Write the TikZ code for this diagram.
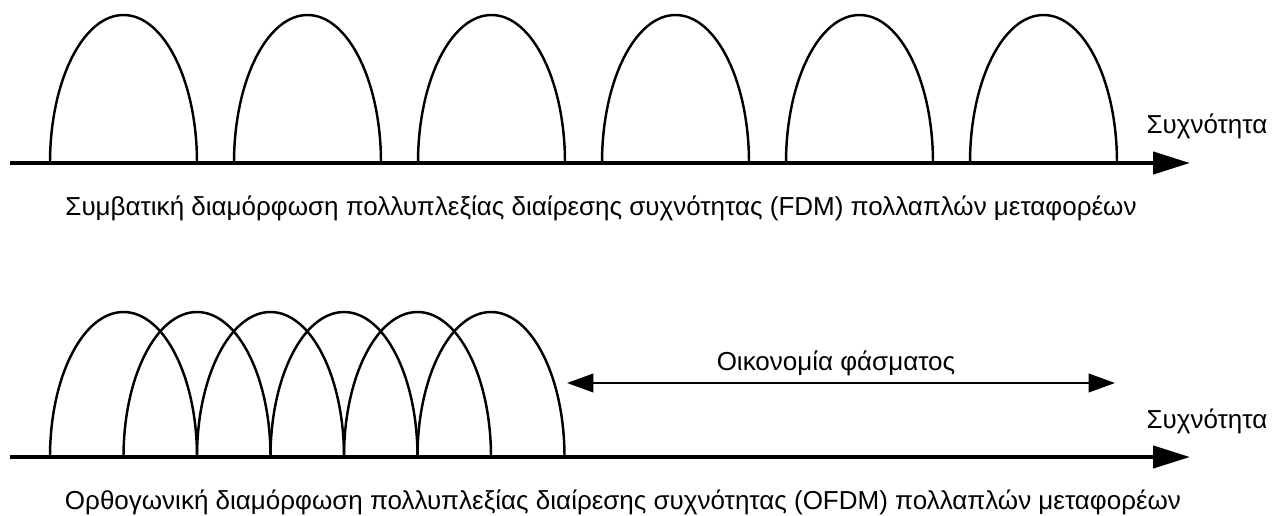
\documentclass[tikz,border=0pt]{standalone}
\usepackage{fontspec}
\setmainfont{Liberation Sans}
\usetikzlibrary{arrows.meta}

\begin{document}
\begin{tikzpicture}[x=0.02cm, y=0.02cm, line width=1.4pt,
  >={Triangle[length=21pt, width=12.5pt]},
  axis/.style = {line width=2.4pt, ->},
  band/.style = {->, >={Triangle[length=15pt, width=10.5pt]}, <->},
  lbl/.style = {font=\fontsize{14.8pt}{17pt}\selectfont, inner sep=0pt, anchor=base}]
\useasboundingbox (0,0) rectangle (1285,515);
% FDM
\coordinate (a0) at (10,352);
\coordinate (a1) at (1190,352);
\draw (50,352) arc[start angle=180, end angle=0, x radius=73.5, y radius=148];
\draw (234,352) arc[start angle=180, end angle=0, x radius=73.5, y radius=148];
\draw (418,352) arc[start angle=180, end angle=0, x radius=73.5, y radius=148];
\draw (602,352) arc[start angle=180, end angle=0, x radius=73.5, y radius=148];
\draw (786,352) arc[start angle=180, end angle=0, x radius=73.5, y radius=148];
\draw (970,352) arc[start angle=180, end angle=0, x radius=73.5, y radius=148];
\draw[axis] (a0) -- (a1);
\node[lbl] (f1) at (1207,382) {Συχνότητα};
\node[lbl] (c1) at (601,300) {Συμβατική διαμόρφωση πολλυπλεξίας διαίρεσης συχνότητας (FDM) πολλαπλών μεταφορέων};
% OFDM
\coordinate (b0) at (10,58);
\coordinate (b1) at (1190,58);
\draw (50,58) arc[start angle=180, end angle=0, x radius=73.5, y radius=145];
\draw (123.5,58) arc[start angle=180, end angle=0, x radius=73.5, y radius=145];
\draw (197,58) arc[start angle=180, end angle=0, x radius=73.5, y radius=145];
\draw (270.5,58) arc[start angle=180, end angle=0, x radius=73.5, y radius=145];
\draw (344,58) arc[start angle=180, end angle=0, x radius=73.5, y radius=145];
\draw (417.5,58) arc[start angle=180, end angle=0, x radius=73.5, y radius=145];
\draw[axis] (b0) -- (b1);
\coordinate (s0) at (567,132);
\coordinate (s1) at (1115,132);
\draw[band] (s0) -- (s1);
\node[lbl] (s) at (836,145) {Οικονομία φάσματος};
\node[lbl] (f2) at (1207,87) {Συχνότητα};
\node[lbl] (c2) at (623,6) {Ορθογωνική διαμόρφωση πολλυπλεξίας διαίρεσης συχνότητας (OFDM) πολλαπλών μεταφορέων};
\end{tikzpicture}
\end{document}
